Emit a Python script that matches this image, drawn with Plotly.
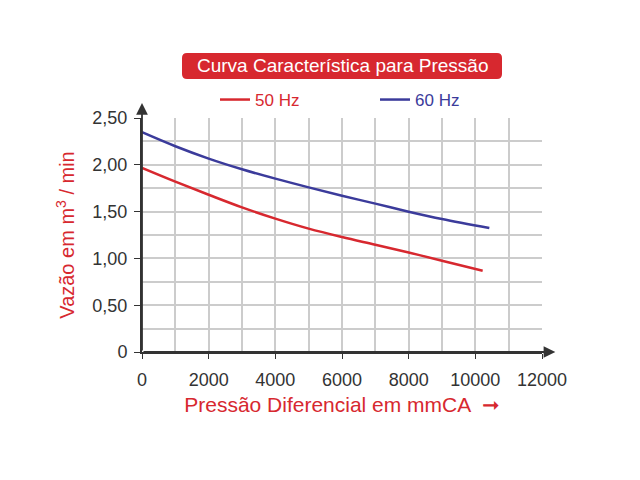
import plotly.graph_objects as go

# pressure (mmCA) vs flow (m3/min)
pressure_50 = [0, 1000, 2000, 3000, 4000, 5000, 6000, 7000, 8000, 9000, 10220]
flow_50 = [1.967, 1.82, 1.68, 1.545, 1.425, 1.318, 1.228, 1.146, 1.063, 0.974, 0.868]

pressure_60 = [0, 1000, 2000, 3000, 4000, 5000, 6000, 7000, 8000, 9000, 10420]
flow_60 = [2.348, 2.198, 2.066, 1.952, 1.852, 1.759, 1.670, 1.585, 1.499, 1.42, 1.324]

y_tickvals = [0, 0.5, 1.0, 1.5, 2.0, 2.5]
y_ticktext = ['0', '0,50', '1,00', '1,50', '2,00', '2,50']
x_tickvals = [0, 2000, 4000, 6000, 8000, 10000, 12000]

RED = '#d7282f'
BLUE = '#3b3b9b'
FONT = 'Arial, Liberation Sans, sans-serif'

# page body has an 8px margin, so plot area offsets are shifted by that
L, T, R, B = 134, 110, 106, 136
PW, PH = 400, 234

fig = go.Figure()

fig.add_trace(go.Scatter(
    x=pressure_50, y=flow_50, mode='lines', line_shape='spline',
    line=dict(color=RED, width=2.5),
    name=f'<span style="color:{RED}">50 Hz</span>'
))
fig.add_trace(go.Scatter(
    x=pressure_60, y=flow_60, mode='lines', line_shape='spline',
    line=dict(color=BLUE, width=2.5),
    name=f'<span style="color:{BLUE}">60 Hz</span>'
))

# axis arrows
fig.add_annotation(x=0, y=2.66, ax=0, ay=0, xref='x', yref='y', axref='x', ayref='y',
                   showarrow=True, arrowhead=2, arrowsize=1.3, arrowwidth=1.8, arrowcolor='#333333', text='')
fig.add_annotation(x=12400, y=0, ax=0, ay=0, xref='x', yref='y', axref='x', ayref='y',
                   showarrow=True, arrowhead=2, arrowsize=1.3, arrowwidth=1.8, arrowcolor='#333333', text='')

# rounded red title box (centre at page px 342, 66)
bx = (342 - 142) / PW
by = (352 - 66) / PH
w, h, r = 160, 13, 5
box = (f'M {-w + r},{-h} L {w - r},{-h} Q {w},{-h} {w},{-h + r} L {w},{h - r} Q {w},{h} {w - r},{h} '
       f'L {-w + r},{h} Q {-w},{h} {-w},{h - r} L {-w},{-h + r} Q {-w},{-h} {-w + r},{-h} Z')
fig.add_shape(type='path', path=box, xref='paper', yref='paper', xsizemode='pixel', ysizemode='pixel',
              xanchor=bx, yanchor=by, fillcolor=RED, line=dict(color=RED, width=0), layer='below')
fig.add_annotation(x=bx, y=by, xref='paper', yref='paper', xanchor='center', yanchor='middle',
                   text='Curva Característica para Pressão', showarrow=False,
                   font=dict(family=FONT, size=19, color='white'))

fig.update_layout(
    width=640, height=480,
    margin=dict(l=L, r=R, t=T, b=B),
    plot_bgcolor='white', paper_bgcolor='white',
    font=dict(family=FONT, size=18, color='#333333'),
    showlegend=True,
    legend=dict(orientation='h', x=(375 - 142) / PW, xanchor='center', y=(352 - 100) / PH, yanchor='middle',
                entrywidth=115, font=dict(size=17), bgcolor='rgba(0,0,0,0)'),
    xaxis=dict(
        range=[0, 12000], tickvals=x_tickvals, tickformat='d', ticks='outside', ticklen=5,
        tickcolor='#333333', showgrid=True, gridcolor='#cccccc', gridwidth=1.5,
        minor=dict(dtick=1000, showgrid=True, gridcolor='#cccccc', gridwidth=1.5),
        showline=True, linecolor='#333333', linewidth=2, zeroline=False,
        ticklabelstandoff=5,
        title=dict(text='Pressão Diferencial em mmCA  ➞', font=dict(color=RED, size=21), standoff=9),
    ),
    yaxis=dict(
        range=[0, 2.5], tickvals=y_tickvals, ticktext=y_ticktext, ticks='outside', ticklen=6,
        tickcolor='#333333', showgrid=True, gridcolor='#cccccc', gridwidth=1.5,
        minor=dict(dtick=0.25, showgrid=True, gridcolor='#cccccc', gridwidth=1.5),
        showline=True, linecolor='#333333', linewidth=2, zeroline=False,
        ticklabelstandoff=3,
        title=dict(text='Vazão em m<sup>3</sup> / min', font=dict(color=RED, size=20), standoff=12),
    ),
)

fig.write_html('out.html')
